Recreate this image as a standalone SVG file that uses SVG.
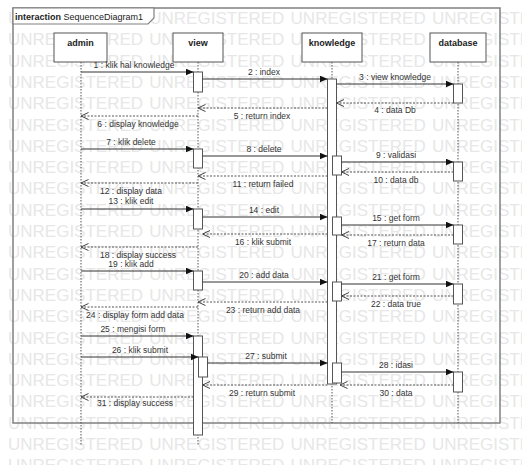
<svg xmlns="http://www.w3.org/2000/svg" width="522" height="465" viewBox="0 0 522 465">
<defs>
<style>
.wm{font-family:"Liberation Sans",Arial,sans-serif;font-size:17px;fill:#e7e7e7;word-spacing:1.5px}
.box{fill:#fff;stroke:#555;stroke-width:1}
.bt{font-family:"Liberation Sans",Arial,sans-serif;font-size:9px;font-weight:bold;fill:#222;text-anchor:middle}
.ll{stroke:#555;stroke-width:1;stroke-dasharray:1.5,1.5;fill:none}
.bar{fill:#fff;stroke:#555;stroke-width:1}
.msg{stroke:#333;stroke-width:1;fill:none;marker-end:url(#solid)}
.ret{stroke:#555;stroke-width:1;stroke-dasharray:2,1.5;fill:none;marker-end:url(#open)}
.lb{font-family:"Liberation Sans",Arial,sans-serif;font-size:8.5px;fill:#333;text-anchor:middle}
</style>
<marker id="solid" markerWidth="9" markerHeight="8" refX="8" refY="3.5" orient="auto" markerUnits="userSpaceOnUse"><path d="M0,0 L8,3.5 L0,7 z" fill="#111"/></marker>
<marker id="open" markerWidth="9" markerHeight="8" refX="7.5" refY="3.5" orient="auto" markerUnits="userSpaceOnUse"><path d="M0,0 L7.5,3.5 L0,7" fill="none" stroke="#444" stroke-width="1"/></marker>
</defs>
<rect x="0" y="0" width="522" height="465" fill="#fff"/>
<g id="watermark">
<text class="wm" x="8" y="24">UNREGISTERED UNREGISTERED UNREGISTERED UNREGISTERED</text>
<text class="wm" x="8" y="45.3">UNREGISTERED UNREGISTERED UNREGISTERED UNREGISTERED</text>
<text class="wm" x="8" y="66.6">UNREGISTERED UNREGISTERED UNREGISTERED UNREGISTERED</text>
<text class="wm" x="8" y="87.9">UNREGISTERED UNREGISTERED UNREGISTERED UNREGISTERED</text>
<text class="wm" x="8" y="109.2">UNREGISTERED UNREGISTERED UNREGISTERED UNREGISTERED</text>
<text class="wm" x="8" y="130.5">UNREGISTERED UNREGISTERED UNREGISTERED UNREGISTERED</text>
<text class="wm" x="8" y="151.8">UNREGISTERED UNREGISTERED UNREGISTERED UNREGISTERED</text>
<text class="wm" x="8" y="173.1">UNREGISTERED UNREGISTERED UNREGISTERED UNREGISTERED</text>
<text class="wm" x="8" y="194.4">UNREGISTERED UNREGISTERED UNREGISTERED UNREGISTERED</text>
<text class="wm" x="8" y="215.7">UNREGISTERED UNREGISTERED UNREGISTERED UNREGISTERED</text>
<text class="wm" x="8" y="237">UNREGISTERED UNREGISTERED UNREGISTERED UNREGISTERED</text>
<text class="wm" x="8" y="258.3">UNREGISTERED UNREGISTERED UNREGISTERED UNREGISTERED</text>
<text class="wm" x="8" y="279.6">UNREGISTERED UNREGISTERED UNREGISTERED UNREGISTERED</text>
<text class="wm" x="8" y="300.9">UNREGISTERED UNREGISTERED UNREGISTERED UNREGISTERED</text>
<text class="wm" x="8" y="322.2">UNREGISTERED UNREGISTERED UNREGISTERED UNREGISTERED</text>
<text class="wm" x="8" y="343.5">UNREGISTERED UNREGISTERED UNREGISTERED UNREGISTERED</text>
<text class="wm" x="8" y="364.8">UNREGISTERED UNREGISTERED UNREGISTERED UNREGISTERED</text>
<text class="wm" x="8" y="386.1">UNREGISTERED UNREGISTERED UNREGISTERED UNREGISTERED</text>
<text class="wm" x="8" y="407.4">UNREGISTERED UNREGISTERED UNREGISTERED UNREGISTERED</text>
<text class="wm" x="8" y="428.7">UNREGISTERED UNREGISTERED UNREGISTERED UNREGISTERED</text>
<text class="wm" x="8" y="450">UNREGISTERED UNREGISTERED UNREGISTERED UNREGISTERED</text>
<text class="wm" x="8" y="471.3">UNREGISTERED UNREGISTERED UNREGISTERED UNREGISTERED</text>
</g>
<g id="frame">
<rect x="13" y="8" width="487" height="415" fill="none" stroke="#808080" stroke-width="1.5"/>
<path d="M13,8 H154 V18 L148,24 H13 Z" fill="#fff" stroke="#808080" stroke-width="1.2"/>
<text x="15" y="19.5" font-family="Liberation Sans, Arial, sans-serif" font-size="9" fill="#222"><tspan font-weight="bold">interaction</tspan> SequenceDiagram1</text>
</g>
<g id="lifelines">
<line class="ll" x1="81" y1="62" x2="81" y2="445"/>
<line class="ll" x1="198" y1="62" x2="198" y2="445"/>
<line class="ll" x1="332" y1="62" x2="332" y2="423"/>
<line class="ll" x1="458" y1="62" x2="458" y2="423"/>
</g>
<g id="admin"><rect class="box" x="54" y="33" width="53" height="29"/><text class="bt" x="80.5" y="45.5">admin</text></g>
<g id="view"><rect class="box" x="173" y="33" width="50" height="29"/><text class="bt" x="198" y="45.5">view</text></g>
<g id="knowledge"><rect class="box" x="302" y="33" width="60" height="29"/><text class="bt" x="332" y="45.5">knowledge</text></g>
<g id="database"><rect class="box" x="430" y="33" width="56" height="29"/><text class="bt" x="458" y="45.5">database</text></g>
<g id="activations">
<rect class="bar" x="193.5" y="72" width="9" height="20"/>
<rect class="bar" x="193.5" y="149" width="9" height="19"/>
<rect class="bar" x="193.5" y="209" width="9" height="20"/>
<rect class="bar" x="193.5" y="271" width="9" height="19"/>
<rect class="bar" x="193.5" y="336" width="9" height="99"/>
<rect class="bar" x="198.5" y="357" width="9" height="20"/>
<rect class="bar" x="327.5" y="79" width="9" height="305"/>
<rect class="bar" x="332.5" y="156" width="9" height="19"/>
<rect class="bar" x="332.5" y="217" width="9" height="18"/>
<rect class="bar" x="332.5" y="282" width="9" height="19"/>
<rect class="bar" x="332.5" y="363" width="9" height="20"/>
<rect class="bar" x="453.5" y="84" width="9" height="19"/>
<rect class="bar" x="453.5" y="162" width="9" height="19"/>
<rect class="bar" x="453.5" y="225" width="9" height="19"/>
<rect class="bar" x="453.5" y="284" width="9" height="20"/>
<rect class="bar" x="453.5" y="372" width="9" height="20"/>
</g>
<g id="connectors">
<line class="msg" x1="81" y1="72" x2="193.5" y2="72"/>
<line class="msg" x1="202.5" y1="79" x2="327.5" y2="79"/>
<line class="msg" x1="336.5" y1="84" x2="453.5" y2="84"/>
<line class="ret" x1="453.5" y1="103" x2="336.5" y2="103"/>
<line class="ret" x1="327.5" y1="108" x2="198" y2="108"/>
<line class="ret" x1="198" y1="116" x2="81" y2="116"/>
<line class="msg" x1="81" y1="149" x2="193.5" y2="149"/>
<line class="msg" x1="202.5" y1="156" x2="327.5" y2="156"/>
<line class="msg" x1="341.5" y1="162" x2="453.5" y2="162"/>
<line class="ret" x1="453.5" y1="172" x2="341.5" y2="172"/>
<line class="ret" x1="327.5" y1="176" x2="198" y2="176"/>
<line class="ret" x1="198" y1="183" x2="81" y2="183"/>
<line class="msg" x1="81" y1="209" x2="193.5" y2="209"/>
<line class="msg" x1="202.5" y1="217" x2="327.5" y2="217"/>
<line class="msg" x1="341.5" y1="225" x2="453.5" y2="225"/>
<line class="ret" x1="327.5" y1="234" x2="202.5" y2="234"/>
<line class="ret" x1="453.5" y1="235" x2="341.5" y2="235"/>
<line class="ret" x1="198" y1="247" x2="81" y2="247"/>
<line class="msg" x1="81" y1="271" x2="193.5" y2="271"/>
<line class="msg" x1="202.5" y1="282" x2="327.5" y2="282"/>
<line class="msg" x1="341.5" y1="284" x2="453.5" y2="284"/>
<line class="ret" x1="453.5" y1="296" x2="341.5" y2="296"/>
<line class="ret" x1="327.5" y1="302" x2="198" y2="302"/>
<line class="ret" x1="198" y1="307" x2="81" y2="307"/>
<line class="msg" x1="81" y1="336" x2="193.5" y2="336"/>
<line class="msg" x1="81" y1="357" x2="198.5" y2="357"/>
<line class="msg" x1="207.5" y1="363" x2="327.5" y2="363"/>
<line class="msg" x1="341.5" y1="372" x2="453.5" y2="372"/>
<line class="ret" x1="327.5" y1="385" x2="202.5" y2="385"/>
<line class="ret" x1="453.5" y1="385" x2="340" y2="385"/>
<line class="ret" x1="193.5" y1="397" x2="81" y2="397"/>
</g>
<g id="labels">
<text class="lb" x="134" y="68">1 : klik hal knowledge</text>
<text class="lb" x="264" y="75">2 : index</text>
<text class="lb" x="395" y="80">3 : view knowledge</text>
<text class="lb" x="395" y="113">4 : data Db</text>
<text class="lb" x="262" y="119">5 : return index</text>
<text class="lb" x="138" y="127">6 : display knowledge</text>
<text class="lb" x="131" y="145">7 : klik delete</text>
<text class="lb" x="264" y="152">8 : delete</text>
<text class="lb" x="396" y="158">9 : validasi</text>
<text class="lb" x="396" y="183">10 : data db</text>
<text class="lb" x="263" y="187">11 : return failed</text>
<text class="lb" x="131" y="194">12 : display data</text>
<text class="lb" x="131" y="204">13 : klik edit</text>
<text class="lb" x="264" y="213">14 : edit</text>
<text class="lb" x="396" y="221">15 : get form</text>
<text class="lb" x="263" y="245">16 : klik submit</text>
<text class="lb" x="396" y="246">17 : return data</text>
<text class="lb" x="138" y="258">18 : display success</text>
<text class="lb" x="131" y="267">19 : klik add</text>
<text class="lb" x="264" y="278">20 : add data</text>
<text class="lb" x="396" y="280">21 : get form</text>
<text class="lb" x="396" y="307">22 : data true</text>
<text class="lb" x="263" y="313">23 : return add data</text>
<text class="lb" x="135" y="318">24 : display form add data</text>
<text class="lb" x="133" y="332">25 : mengisi form</text>
<text class="lb" x="140" y="353">26 : klik submit</text>
<text class="lb" x="266" y="359">27 : submit</text>
<text class="lb" x="396" y="368">28 : idasi</text>
<text class="lb" x="262" y="396">29 : return submit</text>
<text class="lb" x="396" y="396">30 : data</text>
<text class="lb" x="135" y="406">31 : display success</text>
</g>
</svg>
